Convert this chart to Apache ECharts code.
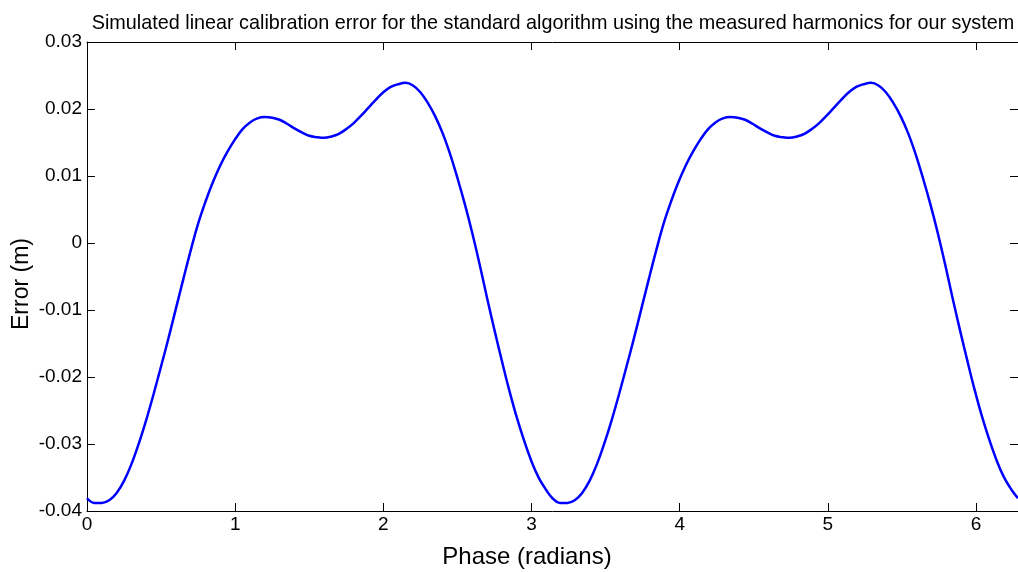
<!DOCTYPE html>
<html>
<head>
<meta charset="utf-8">
<script src="https://cdn.jsdelivr.net/npm/echarts@6/dist/echarts.min.js"></script>
<style>
html,body{margin:0;padding:0;background:#fff;}
#chart{width:1018px;height:572px;}
</style>
</head>
<body>
<div id="chart"></div>
<script>
// Data
var titleText = 'Simulated linear calibration error for the standard algorithm using the measured harmonics for our system';
var xAxisName = 'Phase (radians)';
var yAxisName = 'Error (m)';
var xTicks = [0, 1, 2, 3, 4, 5, 6];
var yTicks = [-0.04, -0.03, -0.02, -0.01, 0, 0.01, 0.02, 0.03];

var phase = [
  0.00, 0.05, 0.10, 0.15, 0.20, 0.25, 0.30, 0.35, 0.40, 0.45,
  0.50, 0.55, 0.60, 0.65, 0.70, 0.75, 0.80, 0.85, 0.90, 0.95,
  1.00, 1.05, 1.10, 1.15, 1.20, 1.25, 1.30, 1.35, 1.40, 1.45,
  1.50, 1.55, 1.60, 1.65, 1.70, 1.75, 1.80, 1.85, 1.90, 1.95,
  2.00, 2.05, 2.10, 2.15, 2.20, 2.25, 2.30, 2.35, 2.40, 2.45,
  2.50, 2.55, 2.60, 2.65, 2.70, 2.75, 2.80, 2.85, 2.90, 2.95,
  3.00, 3.05, 3.10,
  3.1416, 3.1916, 3.2416, 3.2916, 3.3416, 3.3916, 3.4416, 3.4916, 3.5416, 3.5916,
  3.6416, 3.6916, 3.7416, 3.7916, 3.8416, 3.8916, 3.9416, 3.9916, 4.0416, 4.0916,
  4.1416, 4.1916, 4.2416, 4.2916, 4.3416, 4.3916, 4.4416, 4.4916, 4.5416, 4.5916,
  4.6416, 4.6916, 4.7416, 4.7916, 4.8416, 4.8916, 4.9416, 4.9916, 5.0416, 5.0916,
  5.1416, 5.1916, 5.2416, 5.2916, 5.3416, 5.3916, 5.4416, 5.4916, 5.5416, 5.5916,
  5.6416, 5.6916, 5.7416, 5.7916, 5.8416, 5.8916, 5.9416, 5.9916, 6.0416, 6.0916,
  6.1416, 6.1916, 6.2416, 6.2832
];
var error = [
  -0.0381, -0.0388, -0.0388, -0.0384, -0.0373, -0.0355, -0.0330, -0.0299, -0.0264, -0.0225,
  -0.0184, -0.0142, -0.0098, -0.0054, -0.0011, 0.0029, 0.0062, 0.0091, 0.0116, 0.0137,
  0.0155, 0.0170, 0.0180, 0.0186, 0.0188, 0.0187, 0.0184, 0.0178, 0.0171, 0.0165,
  0.0160, 0.0158, 0.0157, 0.0159, 0.0163, 0.0170, 0.0179, 0.0190, 0.0202, 0.0214,
  0.0225, 0.0233, 0.0237, 0.0239, 0.0235, 0.0225, 0.0209, 0.0189, 0.0164, 0.0133,
  0.0097, 0.0058, 0.0015, -0.0032, -0.0082, -0.0130, -0.0176, -0.0220, -0.0260, -0.0295,
  -0.0326, -0.0351, -0.0369,
  -0.0381, -0.0388, -0.0388, -0.0384, -0.0373, -0.0355, -0.0330, -0.0299, -0.0264, -0.0225,
  -0.0184, -0.0142, -0.0098, -0.0054, -0.0011, 0.0029, 0.0062, 0.0091, 0.0116, 0.0137,
  0.0155, 0.0170, 0.0180, 0.0186, 0.0188, 0.0187, 0.0184, 0.0178, 0.0171, 0.0165,
  0.0160, 0.0158, 0.0157, 0.0159, 0.0163, 0.0170, 0.0179, 0.0190, 0.0202, 0.0214,
  0.0225, 0.0233, 0.0237, 0.0239, 0.0235, 0.0225, 0.0209, 0.0189, 0.0164, 0.0133,
  0.0097, 0.0058, 0.0015, -0.0032, -0.0082, -0.0130, -0.0176, -0.0220, -0.0260, -0.0295,
  -0.0326, -0.0351, -0.0369, -0.0381
];

var points = phase.map(function (p, i) { return [p, error[i]]; });
var FONT = '"Liberation Sans", Arial, Helvetica, sans-serif';

var chart = echarts.init(document.getElementById('chart'), null, {renderer: 'canvas'});
var axisLineStyle = {color: '#000', width: 1};
var yLabelFmt = function (v) {
  var r = Math.round(v * 100) / 100;
  if (r === 0) return '0';
  return String(r);
};
chart.setOption({
  animation: false,
  backgroundColor: '#ffffff',
  title: {
    text: titleText,
    left: 548, top: 9, textAlign: 'center',
    textStyle: {fontFamily: FONT, fontSize: 19.8, fontWeight: 'normal', color: '#000'}
  },
  grid: {left: 87, top: 42, width: 932, height: 469, containLabel: false},
  xAxis: [{
    type: 'value', min: 0, max: 6.2832, interval: 1, position: 'bottom',
    axisLine: {show: true, onZero: false, lineStyle: axisLineStyle},
    axisTick: {show: true, inside: true, length: 8, lineStyle: axisLineStyle},
    axisLabel: {show: true, color: '#000', fontFamily: FONT, fontSize: 19, margin: 4,
      showMaxLabel: false,
      formatter: function (v) { return xTicks.indexOf(v) >= 0 ? String(v) : ''; }},
    splitLine: {show: false}
  }, {
    type: 'value', min: 0, max: 6.2832, interval: 1, position: 'top',
    axisLine: {show: true, onZero: false, lineStyle: axisLineStyle},
    axisTick: {show: true, inside: true, length: 8, lineStyle: axisLineStyle},
    axisLabel: {show: false},
    splitLine: {show: false}
  }],
  yAxis: [{
    type: 'value', min: -0.04, max: 0.03, interval: 0.01, position: 'left',
    axisLine: {show: true, onZero: false, lineStyle: axisLineStyle},
    axisTick: {show: true, inside: true, length: 8, lineStyle: axisLineStyle},
    axisLabel: {show: true, color: '#000', fontFamily: FONT, fontSize: 19, margin: 5,
      formatter: yLabelFmt},
    splitLine: {show: false}
  }, {
    type: 'value', min: -0.04, max: 0.03, interval: 0.01, position: 'right',
    axisLine: {show: true, onZero: false, lineStyle: axisLineStyle},
    axisTick: {show: true, inside: true, length: 8, lineStyle: axisLineStyle},
    axisLabel: {show: false},
    splitLine: {show: false}
  }],
  graphic: [{
    type: 'text', x: 527, y: 557,
    style: {text: xAxisName, x: 0, y: 0, textAlign: 'center', textVerticalAlign: 'middle',
      font: '24px ' + FONT, fill: '#000'}
  }, {
    type: 'text', rotation: Math.PI / 2, x: 22, y: 284,
    style: {text: yAxisName, x: 0, y: 0, textAlign: 'center', textVerticalAlign: 'middle',
      font: '23px ' + FONT, fill: '#000'}
  }],
  series: [{
    type: 'line', xAxisIndex: 0, yAxisIndex: 0,
    data: points, smooth: 0.4, showSymbol: false, symbol: 'none',
    lineStyle: {color: '#0000ff', width: 2.5},
    clip: true
  }]
});
</script>
</body>
</html>
